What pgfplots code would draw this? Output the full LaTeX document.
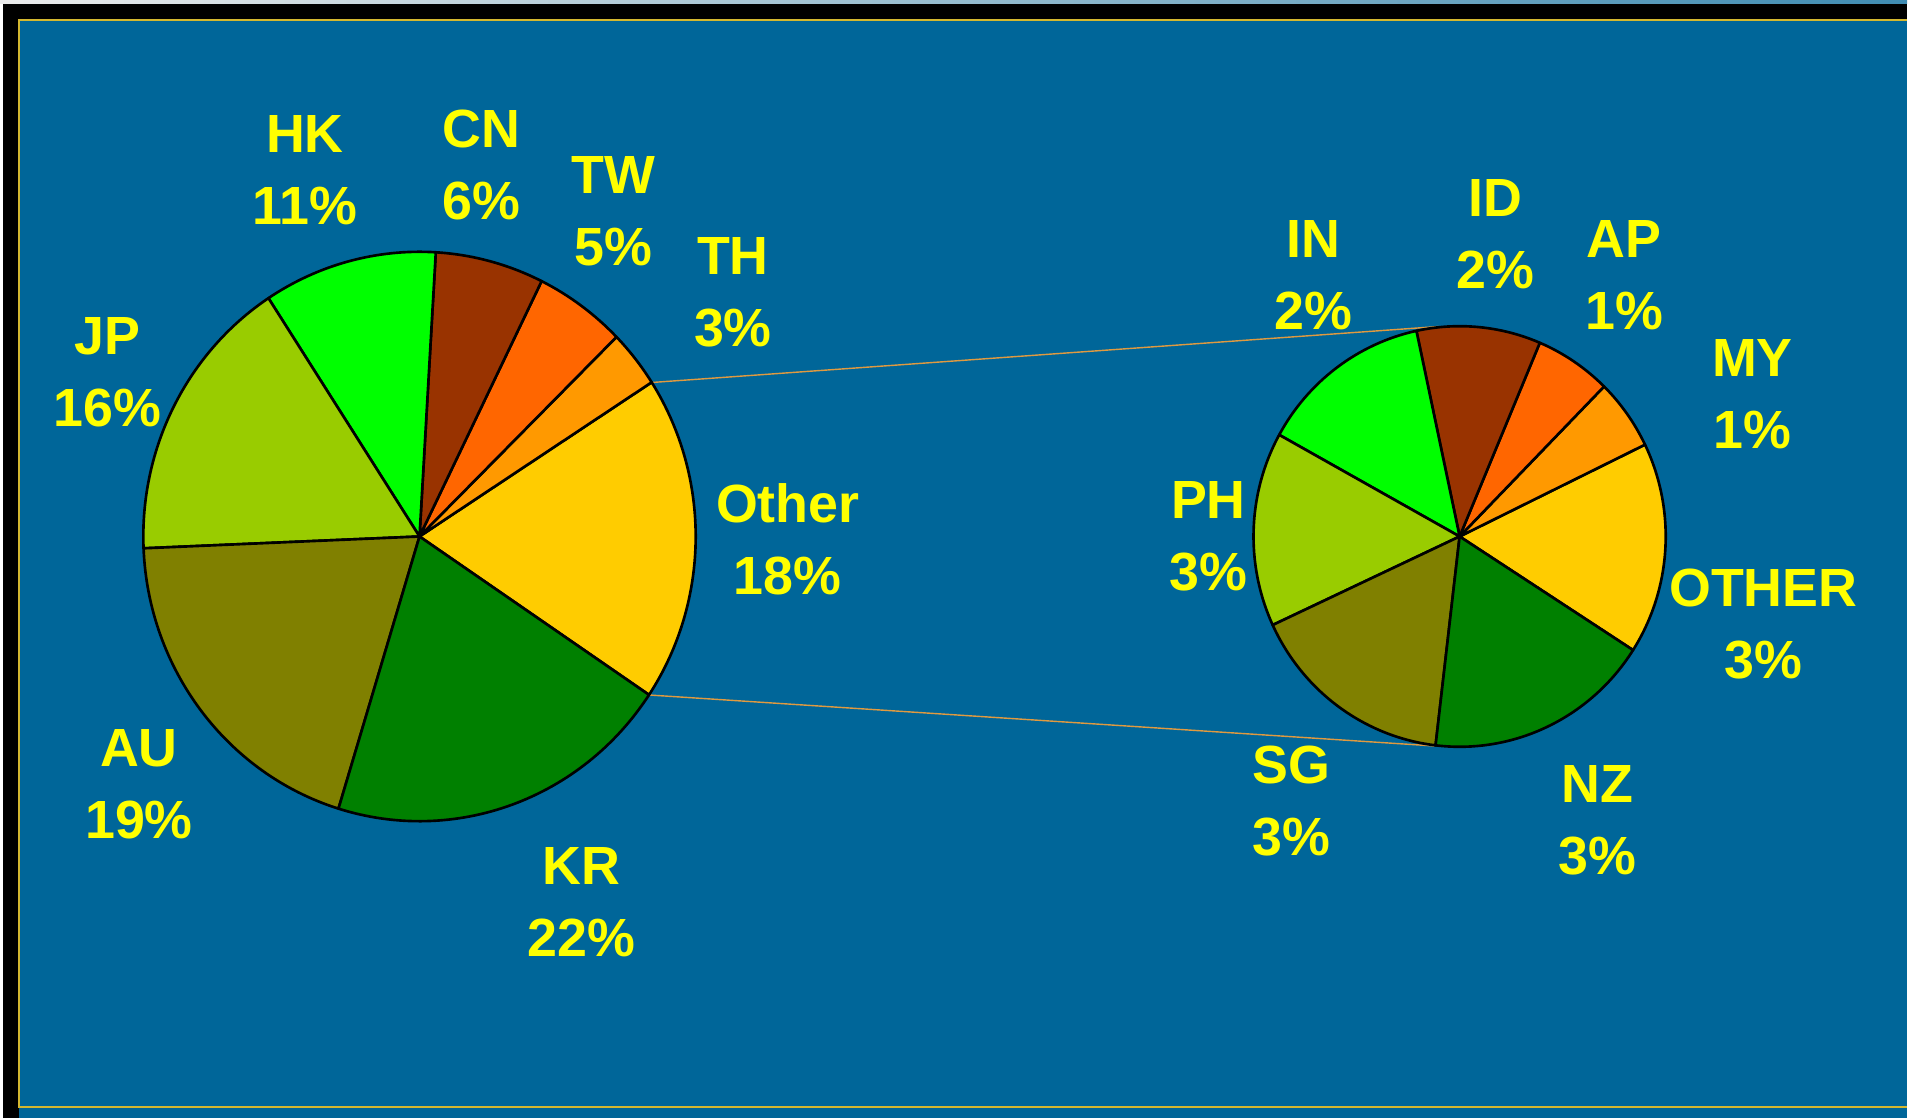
\documentclass[border=0pt]{standalone}
\usepackage{pgfplots}
\usepackage{pgfplotstable}
\pgfplotsset{compat=1.18}
\usepackage{fontspec}
\setmainfont{Liberation Sans}

\definecolor{bg}{HTML}{006699}
\definecolor{frameyel}{HTML}{D4B830}
\definecolor{linkline}{HTML}{E09A40}
\definecolor{labyel}{HTML}{FFFF00}
\definecolor{cOther}{HTML}{FFCC00}
\definecolor{cTH}{HTML}{FF9900}
\definecolor{cTW}{HTML}{FF6600}
\definecolor{cCN}{HTML}{993300}
\definecolor{cHK}{HTML}{00FF00}
\definecolor{cJP}{HTML}{99CC00}
\definecolor{cAU}{HTML}{808000}
\definecolor{cKR}{HTML}{008000}

\tikzset{lab/.style={text=labyel, align=center, inner sep=0pt,
    font=\bfseries\fontsize{15.3}{20.5}\selectfont}}

% slices counter-clockwise, starting at the lower edge of "Other"
\pgfplotstableread{
name value pct col lx ly
Other 18.5 18 cOther 7.877 5.790
TH 3.25 3 cTH 7.329 8.253
TW 5.35 5 cTW 6.134 9.070
CN 6.35 6 cCN 4.817 9.534
HK 10.15 11 cHK 3.049 9.473
JP 16.45 16 cJP 1.073 7.461
AU 19.6 19 cAU 1.390 3.339
KR 20.35 22 cKR 5.817 2.156
}\maintab

% breakdown of "Other"
\pgfplotstableread{
name value pct col lx ly
OTHER 2.93 3 cOther 17.633 4.937
MY 0.98 1 cTH 17.523 7.241
AP 1.08 1 cTW 16.242 8.424
ID 1.75 2 cCN 14.950 8.839
IN 2.45 2 cHK 13.133 8.424
PH 2.69 3 cJP 12.084 5.815
SG 2.92 3 cAU 12.913 3.169
NZ 3.2 3 cKR 15.974 2.973
}\subtab

% #1 table, #2 cx, #3 cy, #4 x radius, #5 y radius (cm), #6 start angle
\newcommand\drawpie[6]{%
  \pgfplotstablegetrowsof{#1}%
  \pgfmathtruncatemacro\last{\pgfplotsretval-1}%
  \def\tot{0}%
  \pgfplotsforeachungrouped \i in {0,...,\last}{%
    \pgfplotstablegetelem{\i}{value}\of{#1}%
    \pgfmathsetmacro\tot{\tot+\pgfplotsretval}}%
  \def\acc{#6}%
  \pgfplotsforeachungrouped \i in {0,...,\last}{%
    \pgfplotstablegetelem{\i}{value}\of{#1}%
    \pgfmathsetmacro\nxt{\acc+360*\pgfplotsretval/\tot}%
    \pgfmathsetmacro\sx{#2+#4*cos(\acc)}%
    \pgfmathsetmacro\sy{#3+#5*sin(\acc)}%
    \pgfplotstablegetelem{\i}{col}\of{#1}\let\col\pgfplotsretval
    \edef\tmp{\noexpand\filldraw[fill=\col,draw=black,line width=0.75pt,line join=round]
      (axis cs:#2,#3) -- (axis cs:\sx,\sy)
      arc[start angle=\acc, end angle=\nxt, x radius=#4cm, y radius=#5cm] -- cycle;}%
    \tmp
    \pgfplotstablegetelem{\i}{name}\of{#1}\let\nm\pgfplotsretval
    \pgfplotstablegetelem{\i}{pct}\of{#1}\let\pc\pgfplotsretval
    \pgfplotstablegetelem{\i}{lx}\of{#1}\let\lx\pgfplotsretval
    \pgfplotstablegetelem{\i}{ly}\of{#1}\let\ly\pgfplotsretval
    \edef\tmp{\noexpand\node[lab] at (axis cs:\lx,\ly)
      {\nm\noexpand\\\pc\noexpand\%};}%
    \tmp
    \let\acc\nxt}%
}

\begin{document}
\begin{tikzpicture}
\begin{axis}[
    x=1cm, y=1cm,
    xmin=0, xmax=19.12, ymin=0, ymax=11.18,
    hide axis, clip=false,
  ]
  % background and frame
  \fill[white] (axis cs:0,0) rectangle (axis cs:19.12,11.18);
  \shade[left color=black!8!white, right color=bg!75!white]
    (axis cs:0,11.14) rectangle (axis cs:19.07,11.18);
  \fill[black] (axis cs:0.03,0) rectangle (axis cs:19.07,11.14);
  \fill[bg] (axis cs:0.19,0) rectangle (axis cs:19.07,10.99);
  \draw[frameyel, line width=0.5pt] (axis cs:19.07,10.98) -- (axis cs:0.19,10.98)
    -- (axis cs:0.19,0.11) -- (axis cs:19.07,0.11);

  % connector lines
  \draw[linkline, line width=0.4pt] (axis cs:6.520,7.355) -- (axis cs:14.389,7.915);
  \draw[linkline, line width=0.4pt] (axis cs:6.490,4.230) -- (axis cs:14.345,3.720);

  \drawpie{\maintab}{4.195}{5.815}{2.762}{2.847}{-33.8}
  \drawpie{\subtab}{14.596}{5.815}{2.061}{2.103}{-32.7}
\end{axis}
\end{tikzpicture}
\end{document}
